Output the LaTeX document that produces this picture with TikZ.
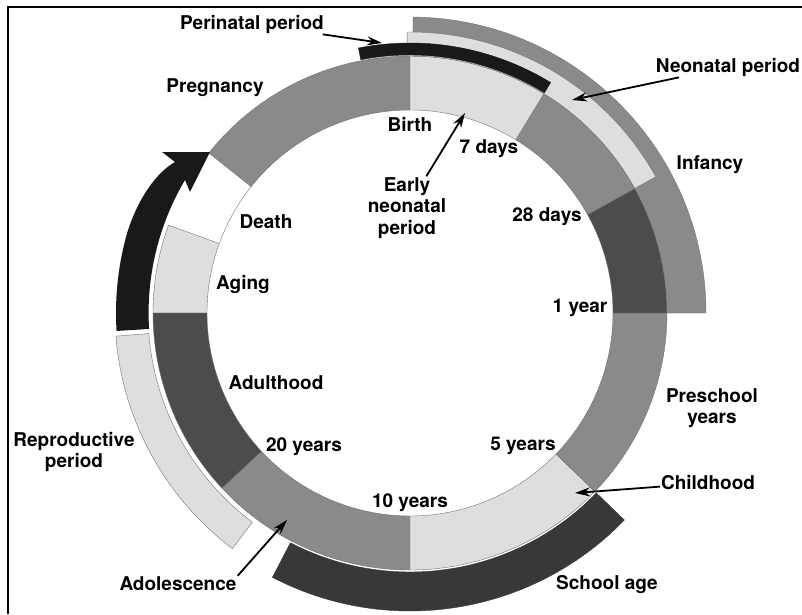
\documentclass[tikz,border=0pt]{standalone}
\usepackage{fontspec}
\setmainfont{TeX Gyre Heros}
\usetikzlibrary{arrows.meta}

\definecolor{lightband}{gray}{0.87}
\definecolor{midband}{gray}{0.54}
\definecolor{darkband}{gray}{0.30}
\definecolor{deepband}{gray}{0.22}
\definecolor{blackband}{gray}{0.10}

\newcommand{\ringband}[5]{
    \filldraw[#1] (#2:#4) arc[start angle=#2, end angle=#3, radius=#4]
        -- (#3:#5) arc[start angle=#3, end angle=#2, radius=#5] -- cycle;
}

\begin{document}
\begin{tikzpicture}[x=1pt, y=1pt]
        \tikzstyle{stage}=[font=\fontsize{19}{21.5}\selectfont\bfseries, align=center, inner sep=1pt]
        \tikzstyle{pointer}=[line width=1.8pt, -{Stealth[length=15pt, width=9pt]}]
        \tikzstyle{edge}=[draw=black!55, line width=0.4pt]

        \useasboundingbox (-410,-301) rectangle (392,313);
        \draw[line width=1.5pt] (-402,-301) -- (-402,306) -- (392,306);

        \ringband{midband, edge}{90}{141.5}{203}{257}
        \ringband{lightband, edge}{160}{180}{203}{257}
        \ringband{darkband, edge}{180}{223}{203}{257}
        \ringband{midband, edge}{223}{270}{203}{257}
        \ringband{lightband, edge}{270}{316}{203}{257}
        \ringband{midband, edge}{316}{360}{203}{257}
        \ringband{darkband, edge}{0}{29}{203}{257}
        \ringband{midband, edge}{29}{58.6}{203}{257}
        \ringband{lightband, edge}{58.6}{90}{203}{257}
        \draw[edge] (141.5:203) arc[start angle=141.5, end angle=160, radius=203];

        \ringband{midband, edge}{0}{89.4}{257}{296}
        \ringband{lightband, edge}{29}{90.6}{257}{281}
        \ringband{blackband}{58.6}{101}{258}{270}
        \ringband{deepband}{242.5}{316}{259}{298}
        \ringband{lightband, edge}{184.5}{233}{262}{295}

        \fill[blackband] (183.5:262) -- (183.5:294) arc[start angle=183.5, end angle=165, radius=294]
            .. controls (-276,105) and (-258,138) .. (-235,151) -- (-248,161) -- (-200,161) -- (-220,121)
            -- (-225,133) arc[start angle=149.4, end angle=183.5, radius=261.4] -- cycle;

        \node[stage] (perinatal) at (-158,289) {Perinatal period};
        \node[stage] (neonatal) at (318,246) {Neonatal period};
        \node[stage] (infancy) at (300,148) {Infancy};
        \node[stage] (pregnancy) at (-195,225) {Pregnancy};
        \node[stage] (birth) at (0,189) {Birth};
        \node[stage] (seven days) at (79,164) {7 days};
        \node[stage] (early neonatal) at (-3,105) {Early\\neonatal\\period};
        \node[stage] (death) at (-144,91) {Death};
        \node[stage] (aging) at (-167,29) {Aging};
        \node[stage] (twenty eight days) at (137,96) {28 days};
        \node[stage] (one year) at (170,5) {1 year};
        \node[stage] (adulthood) at (-134,-70) {Adulthood};
        \node[stage] (twenty years) at (-106,-134) {20 years};
        \node[stage] (ten years) at (0,-190) {10 years};
        \node[stage] (five years) at (113,-133) {5 years};
        \node[stage] (preschool) at (302,-95) {Preschool\\years};
        \node[stage] (childhood) at (298,-170) {Childhood};
        \node[stage] (school age) at (197,-272) {School age};
        \node[stage] (reproductive) at (-336,-139) {Reproductive\\period};
        \node[stage] (adolescence) at (-232,-271) {Adolescence};

        \coordinate (perinatal tip) at (-28,270);
        \coordinate (neonatal tip) at (162,213);
        \coordinate (early tip) at (55,200);
        \coordinate (childhood tip) at (165,-180);
        \coordinate (adolescence tip) at (-123,-207);

        \draw[pointer] (perinatal) -- (perinatal tip);
        \draw[pointer] (neonatal) -- (neonatal tip);
        \draw[pointer] (early neonatal) -- (early tip);
        \draw[pointer] (childhood) -- (childhood tip);
        \draw[pointer] (adolescence.north east) -- (adolescence tip);
\end{tikzpicture}
\end{document}
